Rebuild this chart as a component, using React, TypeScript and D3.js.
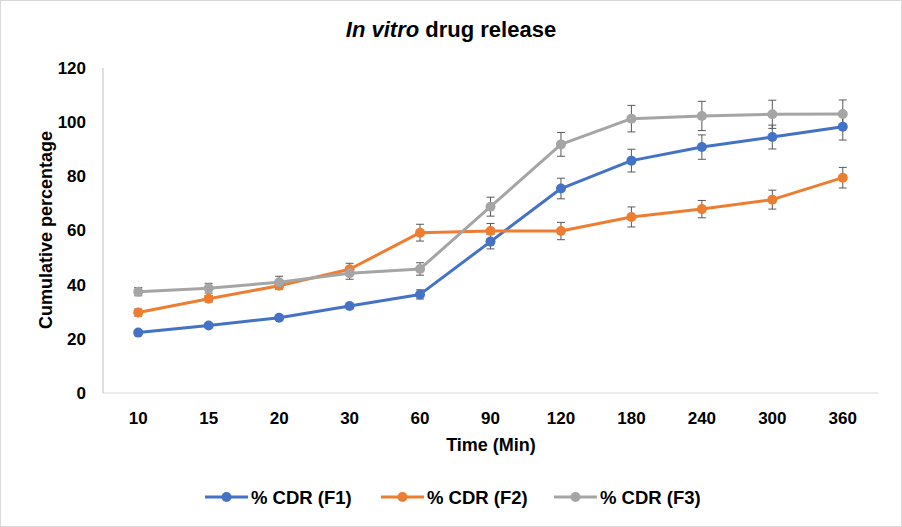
import * as d3 from 'd3';
import React, { useEffect, useRef } from 'react';

const categories = ['10', '15', '20', '30', '60', '90', '120', '180', '240', '300', '360'];
const yTicks = [0, 20, 40, 60, 80, 100, 120];

const seriesNames = ['% CDR (F1)', '% CDR (F2)', '% CDR (F3)'];
const seriesColors = ['#4472C4', '#ED7D31', '#A5A5A5'];

const f1Values = [22.3, 24.9, 27.8, 32.1, 36.4, 55.9, 75.5, 85.8, 90.8, 94.5, 98.3];
const f2Values = [29.7, 34.8, 39.6, 45.7, 59.2, 59.8, 59.8, 65.0, 67.9, 71.4, 79.5];
const f3Values = [37.4, 38.7, 40.9, 44.2, 45.8, 68.8, 91.8, 101.3, 102.3, 102.9, 103.0];

const f1Errors = [0.8, 0.8, 0.9, 1.0, 1.7, 2.7, 3.8, 4.2, 4.5, 4.4, 4.9];
const f2Errors = [1.3, 1.2, 1.3, 2.2, 3.1, 2.8, 3.2, 3.7, 3.2, 3.5, 3.8];
const f3Errors = [1.5, 1.8, 2.2, 2.2, 2.3, 3.5, 4.4, 4.9, 5.4, 5.2, 5.2];

const allValues = [f1Values, f2Values, f3Values];
const allErrors = [f1Errors, f2Errors, f3Errors];

const WIDTH = 902;
const HEIGHT = 527;
const FONT = '"Liberation Sans", Arial, sans-serif';

const App = () => {
   const svgRef = useRef<SVGSVGElement | null>(null);

   useEffect(() => {
      document.body.style.margin = '0';
      const svg = d3.select(svgRef.current);
      svg.selectAll('*').remove();

      const margin = { top: 68, right: 24, bottom: 134, left: 103 };
      const innerW = WIDTH - margin.left - margin.right;
      const innerH = HEIGHT - margin.top - margin.bottom;

      // chart frame
      svg.append('rect')
         .attr('x', 0.5).attr('y', 0.5)
         .attr('width', WIDTH - 1).attr('height', HEIGHT - 1)
         .attr('fill', '#fff').attr('stroke', '#d9d9d9');

      const x = d3.scaleBand().domain(categories).range([0, innerW]);
      const y = d3.scaleLinear().domain([0, 120]).range([innerH, 0]);

      const g = svg.append('g').attr('transform', `translate(${margin.left},${margin.top})`);

      // axes lines
      g.append('line')
         .attr('x1', 0).attr('x2', innerW).attr('y1', innerH).attr('y2', innerH)
         .attr('stroke', '#d9d9d9').attr('stroke-width', 1);
      g.append('line')
         .attr('x1', 0).attr('x2', 0).attr('y1', 0).attr('y2', innerH)
         .attr('stroke', '#bfbfbf').attr('stroke-width', 1);

      // y tick labels
      g.selectAll('.ytick')
         .data(yTicks)
         .join('text')
         .attr('x', -17)
         .attr('y', (d) => y(d))
         .attr('dy', '0.35em')
         .attr('text-anchor', 'end')
         .attr('font-family', FONT)
         .attr('font-weight', 'bold')
         .attr('font-size', 17)
         .attr('fill', '#000')
         .text((d) => d);

      // x tick labels
      const cx = (c: string) => (x(c) ?? 0) + x.bandwidth() / 2;
      g.selectAll('.xtick')
         .data(categories)
         .join('text')
         .attr('x', (d) => cx(d))
         .attr('y', innerH + 31)
         .attr('text-anchor', 'middle')
         .attr('font-family', FONT)
         .attr('font-weight', 'bold')
         .attr('font-size', 17)
         .attr('fill', '#000')
         .text((d) => d);

      // error bars
      allValues.forEach((vals, si) => {
         const errs = allErrors[si];
         const eg = g.append('g').attr('stroke', '#595959').attr('stroke-width', 1).attr('fill', 'none');
         vals.forEach((v, i) => {
            const px = cx(categories[i]);
            const top = y(v + errs[i]);
            const bot = y(v - errs[i]);
            eg.append('line').attr('x1', px).attr('x2', px).attr('y1', top).attr('y2', bot);
            eg.append('line').attr('x1', px - 4).attr('x2', px + 4).attr('y1', top).attr('y2', top);
            eg.append('line').attr('x1', px - 4).attr('x2', px + 4).attr('y1', bot).attr('y2', bot);
         });
      });

      // lines and markers
      const line = d3
         .line<number>()
         .x((_, i) => cx(categories[i]))
         .y((v) => y(v));

      allValues.forEach((vals, si) => {
         g.append('path')
            .datum(vals)
            .attr('fill', 'none')
            .attr('stroke', seriesColors[si])
            .attr('stroke-width', 3)
            .attr('stroke-linejoin', 'round')
            .attr('d', line);
         g.append('g')
            .selectAll('circle')
            .data(vals)
            .join('circle')
            .attr('cx', (_, i) => cx(categories[i]))
            .attr('cy', (v) => y(v))
            .attr('r', 5)
            .attr('fill', seriesColors[si]);
      });

      // title
      const title = svg.append('text')
         .attr('x', 451)
         .attr('y', 37)
         .attr('text-anchor', 'middle')
         .attr('font-family', FONT)
         .attr('font-weight', 'bold')
         .attr('font-size', 22)
         .attr('fill', '#000');
      title.append('tspan').attr('font-style', 'italic').text('In vitro');
      title.append('tspan').text(' drug release');

      // axis titles
      svg.append('text')
         .attr('x', 491)
         .attr('y', 451)
         .attr('text-anchor', 'middle')
         .attr('font-family', FONT)
         .attr('font-weight', 'bold')
         .attr('font-size', 18)
         .attr('fill', '#000')
         .text('Time (Min)');

      svg.append('text')
         .attr('transform', `translate(52,230) rotate(-90)`)
         .attr('text-anchor', 'middle')
         .attr('font-family', FONT)
         .attr('font-weight', 'bold')
         .attr('font-size', 18)
         .attr('fill', '#000')
         .text('Cumulative percentage');

      // legend
      const legendX = [205, 381, 554];
      const legendY = 497;
      seriesNames.forEach((name, i) => {
         const lg = svg.append('g').attr('transform', `translate(${legendX[i]},${legendY})`);
         lg.append('line')
            .attr('x1', 0).attr('x2', 43).attr('y1', 0).attr('y2', 0)
            .attr('stroke', seriesColors[i]).attr('stroke-width', 3);
         lg.append('circle').attr('cx', 21.5).attr('cy', 0).attr('r', 5).attr('fill', seriesColors[i]);
         lg.append('text')
            .attr('x', 46)
            .attr('y', 0)
            .attr('dy', '0.36em')
            .attr('font-family', FONT)
            .attr('font-weight', 'bold')
            .attr('font-size', 18.5)
            .attr('fill', '#000')
            .text(name);
      });
   }, []);

   return <svg ref={svgRef} width={WIDTH} height={HEIGHT} style={{ display: 'block' }} />;
};

export default App;
